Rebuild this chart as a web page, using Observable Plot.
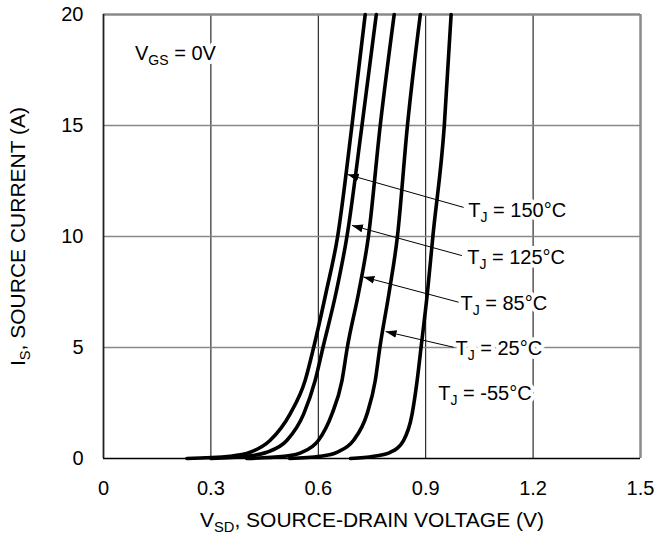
<!DOCTYPE html>
<html>
<head>
<meta charset="utf-8">
<script src="https://cdn.jsdelivr.net/npm/d3@7"></script>
<script src="https://cdn.jsdelivr.net/npm/@observablehq/plot@0.6"></script>
<style>
  html, body { margin: 0; padding: 0; background: #fff; }
  #chart svg { display: block; }
</style>
</head>
<body>
<div id="chart"></div>
<script>
// ---- data ----
const current = [0, 0.1, 0.28, 0.81, 2, 3.5, 5, 7.5, 10, 15, 20];           // I_S (A)
const v150 = [0.233, 0.354, 0.410, 0.465, 0.521, 0.563, 0.587, 0.622, 0.654, 0.694, 0.731];
const v125 = [0.300, 0.400, 0.456, 0.512, 0.559, 0.591, 0.613, 0.650, 0.680, 0.722, 0.762];
const v85  = [0.400, 0.505, 0.554, 0.600, 0.638, 0.666, 0.681, 0.713, 0.740, 0.773, 0.812];
const v25  = [0.520, 0.605, 0.652, 0.698, 0.736, 0.759, 0.772, 0.798, 0.821, 0.849, 0.885];
const vm55 = [0.690, 0.755, 0.801, 0.838, 0.862, 0.876, 0.887, 0.905, 0.920, 0.952, 0.971];
const temps = ["150", "125", "85", "25", "-55"];

const xTicks = [0, 0.3, 0.6, 0.9, 1.2, 1.5];
const yTicks = [0, 5, 10, 15, 20];

// annotation labels (data coordinates)
const labelText = ["T_J = 150°C", "T_J = 125°C", "T_J = 85°C", "T_J = 25°C", "T_J = -55°C", "V_GS = 0V"];
const labelV    = [1.019, 1.016, 0.997, 0.983, 0.935, 0.088];
const labelI    = [11.17, 9.07, 6.98, 4.95, 2.93, 18.24];
// arrows: tail (at label) -> tip (at curve)
const arrowTailV = [1.006, 1.001, 0.992, 0.978];
const arrowTailI = [11.31, 9.14, 7.04, 5.01];
const arrowTipV  = [0.682, 0.694, 0.726, 0.788];
const arrowTipI  = [12.79, 10.50, 8.18, 5.72];

const xLabel = "V_SD, SOURCE-DRAIN VOLTAGE (V)";
const yLabel = "I_S, SOURCE CURRENT (A)";

// ---- tables built from the arrays ----
const seriesV = [v150, v125, v85, v25, vm55];
const curves = seriesV.flatMap((vs, s) => vs.map((v, i) => ({T: temps[s], V: v, I: current[i]})));
const labels = labelText.map((t, i) => ({text: t, V: labelV[i], I: labelI[i]}));
const arrows = arrowTailV.map((v, i) => ({x1: v, y1: arrowTailI[i], x2: arrowTipV[i], y2: arrowTipI[i]}));

const FONT = "'Liberation Sans', Arial, Helvetica, sans-serif";
const labelOpts = {x: "V", y: "I", text: "text", textAnchor: "start", lineAnchor: "middle", fontSize: 20};

const chart = Plot.plot({
  width: 656,
  height: 535,
  marginLeft: 103,
  marginRight: 16,
  marginTop: 14,
  marginBottom: 77,
  style: {fontFamily: FONT, fontSize: "20px", color: "#000", background: "#fff"},
  x: {domain: [0, 1.5], ticks: xTicks, tickFormat: d => d === 0 ? "0" : d.toFixed(1), tickSize: 0, tickPadding: 22, label: null},
  y: {domain: [0, 20], ticks: yTicks, tickFormat: d => String(d), tickSize: 0, tickPadding: 20, label: null},
  marks: [
    Plot.ruleX(xTicks.slice(1, -1), {stroke: "#000", strokeWidth: 1}),
    Plot.ruleY(yTicks.slice(1, -1), {stroke: "#888", strokeWidth: 1.5}),
    Plot.ruleY([20], {stroke: "#8a8a8a", strokeWidth: 2.5}),
    Plot.ruleX([1.5], {stroke: "#8a8a8a", strokeWidth: 2.5}),
    Plot.ruleX([0], {stroke: "#222", strokeWidth: 1.8}),
    Plot.ruleY([0], {stroke: "#000", strokeWidth: 1.5}),
    // white backing behind the labels (cuts the grid lines as in the reference)
    Plot.text(labels, {...labelOpts, fill: "#fff", stroke: "#fff", strokeWidth: 8, strokeLinejoin: "round"}),
    Plot.text(labels, {...labelOpts, fill: "#000"}),
    Plot.line(curves, {x: "V", y: "I", z: "T", stroke: "#000", strokeWidth: 3.6, curve: "monotone-x"}),
    Plot.link(arrows, {x1: "x1", y1: "y1", x2: "x2", y2: "y2", stroke: "#000", strokeWidth: 1, markerEnd: "arrow"}),
    Plot.text([xLabel], {frameAnchor: "bottom", dy: 62, lineAnchor: "middle", textAnchor: "middle", fontSize: 21, fill: "#000"}),
    Plot.text([yLabel], {frameAnchor: "left", dx: -85, rotate: -90, lineAnchor: "middle", textAnchor: "middle", fontSize: 21, fill: "#000"})
  ]
});

// subscripts: "X_SUB rest" -> X<tspan sub>SUB</tspan>rest
const NS = "http://www.w3.org/2000/svg";
chart.querySelectorAll("text").forEach(t => {
  if (t.querySelector("tspan")) return;
  const m = /^(.*?)_([A-Z]+)(.*)$/.exec(t.textContent);
  if (!m) return;
  t.textContent = "";
  t.appendChild(document.createTextNode(m[1]));
  const s = document.createElementNS(NS, "tspan");
  s.setAttribute("font-size", "70%");
  s.setAttribute("dy", "5");
  s.textContent = m[2];
  t.appendChild(s);
  const r = document.createElementNS(NS, "tspan");
  r.setAttribute("dy", "-5");
  r.textContent = m[3];
  t.appendChild(r);
});

// filled triangular arrowheads
chart.querySelectorAll("marker").forEach(mk => {
  mk.setAttribute("viewBox", "-10 -5 10 10");
  mk.setAttribute("markerWidth", "11");
  mk.setAttribute("markerHeight", "11");
  mk.setAttribute("fill", "#000");
  mk.setAttribute("stroke", "none");
  const p = mk.querySelector("path");
  if (p) p.setAttribute("d", "M-10,-3.6L0,0L-10,3.6Z");
});

document.getElementById("chart").appendChild(chart);
</script>
</body>
</html>
